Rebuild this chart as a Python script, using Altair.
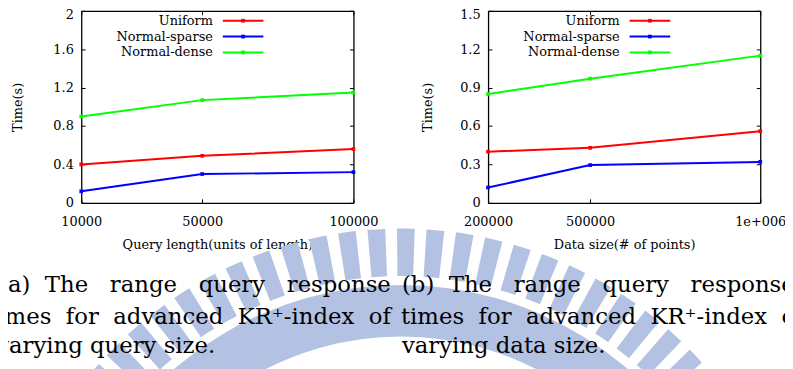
import math
import altair as alt
import pandas as pd

# ---------------- data ----------------
series = ["Uniform", "Normal-sparse", "Normal-dense"]
colors = ["#ff0000", "#0000ff", "#00ff00"]

qa_x = [10000, 50000, 100000]
qa_uniform = [0.40, 0.49, 0.56]
qa_sparse = [0.12, 0.30, 0.32]
qa_dense = [0.90, 1.07, 1.15]

db_x = [200000, 500000, 1000000]
db_uniform = [0.40, 0.43, 0.56]
db_sparse = [0.12, 0.295, 0.32]
db_dense = [0.85, 0.97, 1.15]

ya_ticks = [0, 0.4, 0.8, 1.2, 1.6, 2.0]
yb_ticks = [0, 0.3, 0.6, 0.9, 1.2, 1.5]
xa_labels = ["10000", "50000", "100000"]
xb_labels = ["200000", "500000", "1e+006"]

xa_title = "Query length(units of length)"
xb_title = "Data size(# of points)"
y_title = "Time(s)"

cap_a = [["(a)", "The", "range", "query", "response"],
         ["times", "for", "advanced", "KR\u207a-index", "of"],
         ["varying", "query", "size."]]
cap_b = [["(b)", "The", "range", "query", "response"],
         ["times", "for", "advanced", "KR\u207a-index", "of"],
         ["varying", "data", "size."]]

# ---------------- layout ----------------
W, H = 785, 361
Y0, Y1 = 195, 1
PA = (74, 349)
PB = (485, 760)
FONT = "DejaVu Serif, serif"
FS = 13
WM_COLOR = "#b3c2e2"

color = alt.Color("series:N", scale=alt.Scale(domain=series, range=colors), legend=None)


def long_df(xs, a, b, c):
    rows = []
    for name, vals in zip(series, [a, b, c]):
        for xv, yv in zip(xs, vals):
            rows.append({"series": name, "x": xv, "y": yv})
    return pd.DataFrame(rows)


def label_expr(xs, labels):
    expr = "''"
    for v, l in zip(xs, labels):
        expr = f"datum.value == {v} ? '{l}' : ({expr})"
    return expr


def panel(df, xs_vals, xlabels, xr, ydom, yticks, xtitle, ytitle_x, leg_right):
    xs = alt.Scale(domain=[xs_vals[0], xs_vals[-1]], range=list(xr), nice=False, zero=False)
    ys = alt.Scale(domain=ydom, range=[Y0, Y1], nice=False, zero=False)
    base = alt.Chart(df)
    common = dict(grid=False, labelFont=FONT, labelFontSize=FS, labelColor="black",
                  titleFont=FONT, titleFontSize=FS, titleColor="black", titleFontWeight="normal",
                  domainColor="black", domainWidth=1.3, tickColor="black", tickWidth=1)
    main = base.mark_line(
        strokeWidth=2,
        point=alt.OverlayMarkDef(shape="square", size=14, filled=True),
    ).encode(
        x=alt.X("x:Q", scale=xs, axis=alt.Axis(
            orient="bottom", offset=-(H - Y0), values=xs_vals, labelExpr=label_expr(xs_vals, xlabels),
            ticks=False, labelPadding=13, title=xtitle, titleY=42, titleBaseline="middle",
            labelFlush=False, labelOverlap=False, **common)),
        y=alt.Y("y:Q", scale=ys, axis=alt.Axis(
            orient="left", offset=-xr[0], values=yticks, format="~g", ticks=False, labelPadding=8,
            labelOffset={"condition": {"test": f"datum.value == {yticks[-1]}", "value": 4}, "value": 0},
            title=y_title, titleX=ytitle_x - xr[0], titleY=(Y0 + Y1) / 2, titleBaseline="middle",
            titleAngle=270, labelFlush=False, labelOverlap=False, **common)),
        color=color,
    )
    t_in = base.mark_point(opacity=0).encode(
        x=alt.X("x:Q", scale=xs, axis=alt.Axis(
            orient="top", offset=-Y0, values=xs_vals, labels=False, domain=False, tickSize=4,
            title=None, **common)),
        y=alt.Y("y:Q", scale=ys, axis=alt.Axis(
            orient="right", offset=-(W - xr[0]), values=yticks, labels=False, domain=False,
            tickSize=4, title=None, **common)),
    )
    t_out = base.mark_point(opacity=0).encode(
        x=alt.X("x:Q", scale=xs, axis=alt.Axis(
            orient="bottom", offset=-(H - Y1), values=xs_vals, labels=False, domain=True, tickSize=4,
            title=None, **common)),
        y=alt.Y("y:Q", scale=ys, axis=alt.Axis(
            orient="left", offset=-xr[1], values=yticks, labels=False, domain=True,
            tickSize=4, title=None, **common)),
    )
    leg_df = pd.DataFrame({"series": series})
    ly = alt.Y("series:N", scale=alt.Scale(type="point", domain=series, range=[11, 43], padding=0),
               axis=None)
    lbase = alt.Chart(leg_df)
    leg_text = lbase.mark_text(align="right", baseline="middle", font=FONT, fontSize=FS,
                               color="black").encode(x=alt.value(leg_right), y=ly, text="series:N")
    leg_rule = lbase.mark_rule(strokeWidth=2).encode(
        x=alt.value(leg_right + 10), x2=alt.value(leg_right + 51), y=ly, color=color)
    leg_pt = lbase.mark_point(shape="square", size=14, filled=True, opacity=1).encode(
        x=alt.value(leg_right + 30.5), y=ly, color=color)
    return [main, t_in, t_out, leg_text, leg_rule, leg_pt]


gaps = [[2, 3, 3, 3], [2, 2, 2, 2], [1, 1]]
baselines = [285, 317, 347]


def caption_layers(words_lines, x0s):
    out = []
    for words, g, yb, x0 in zip(words_lines, gaps, baselines, x0s):
        s = words[0]
        for w, n in zip(words[1:], g):
            s += "\u00a0" * n + w
        out.append(alt.Chart(pd.DataFrame({"t": [s]})).mark_text(
            align="left", baseline="alphabetic", font=FONT, fontSize=23, color="black"
        ).encode(text="t:N", x=alt.value(x0), y=alt.value(yb)))
    return out


# ---------------- watermark (decorative emblem behind the captions) ----------------
WM_CX, WM_CY = 397, 630          # emblem centre (plot px)
WM_PITCH = 2 * math.pi / 86      # radial bar pitch
WM_PHASE = math.radians(0.7)
bars = []
for k in range(-13, 14):
    c = WM_PHASE + k * WM_PITCH
    bars.append({"t0": c - 0.3 * WM_PITCH, "t1": c + 0.3 * WM_PITCH})
wm_bars = alt.Chart(pd.DataFrame(bars)).mark_arc(
    radius=409, radius2=361, color=WM_COLOR
).encode(
    theta=alt.Theta("t0:Q", scale=None), theta2="t1:Q",
    x=alt.value(WM_CX), y=alt.value(WM_CY),
)
wm_band = alt.Chart(pd.DataFrame({"t0": [-1.1], "t1": [1.1]})).mark_arc(
    radius=352, radius2=300, color=WM_COLOR
).encode(
    theta=alt.Theta("t0:Q", scale=None), theta2="t1:Q",
    x=alt.value(WM_CX), y=alt.value(WM_CY),
)

df_a = long_df(qa_x, qa_uniform, qa_sparse, qa_dense)
df_b = long_df(db_x, db_uniform, db_sparse, db_dense)

layers = [wm_bars, wm_band]
layers += panel(df_a, qa_x, xa_labels, PA, [0, 2], ya_ticks, xa_title, 10, 207)
layers += panel(df_b, db_x, xb_labels, PB, [0, 1.5], yb_ticks, xb_title, 424, 618)
layers += caption_layers(cap_a, [-9, -20, -12])
layers += caption_layers(cap_b, [398, 397, 398])

chart = alt.layer(*layers).resolve_scale(
    x="independent", y="independent"
).resolve_axis(
    x="independent", y="independent"
).properties(
    width=W, height=H, padding=0,
    autosize=alt.AutoSizeParams(type="none"),
    background="white",
).configure_view(strokeWidth=0)

chart.save("out.html", embed_options={"renderer": "svg", "actions": False})
